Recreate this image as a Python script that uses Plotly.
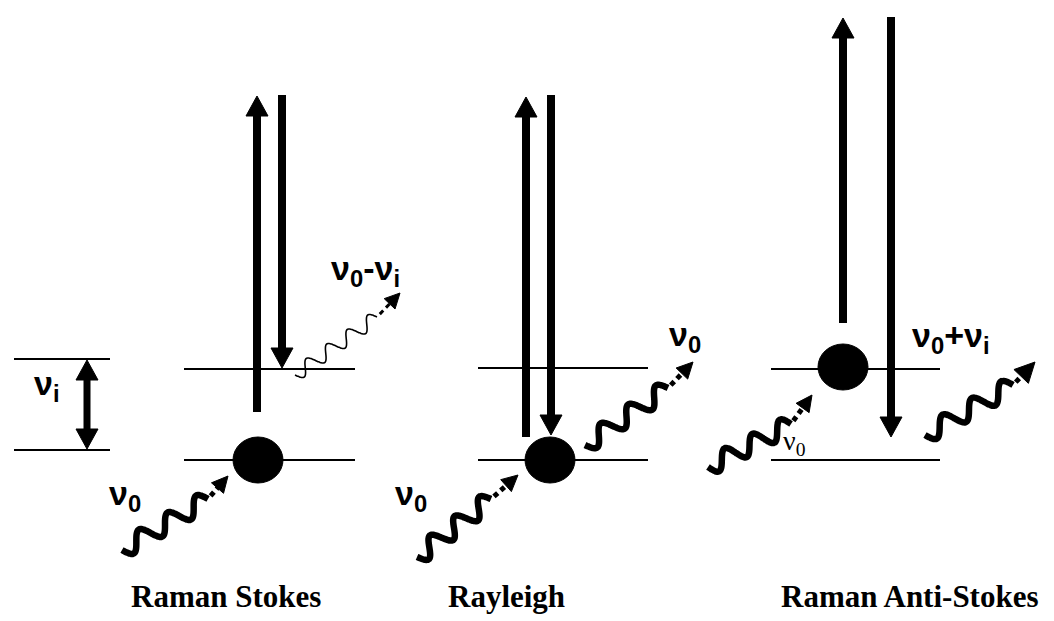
import math
import plotly.graph_objects as go

W, H = 1054, 621
PAGE_OFFSET = 8  # browser body margin

# ---- energy levels (x from, x to, upper y, lower y) ----
level_x0 = [14, 184, 478, 771]
level_x1 = [110, 355, 648, 940]
level_upper_y = [359, 369, 368, 369]
level_lower_y = [450, 460, 460, 460]

# ---- thick vertical transition arrows ----
arrow_x = [257, 282, 526, 551, 843, 891]
arrow_y_from = [412, 95, 437, 95, 323, 17]
arrow_y_to = [96, 368, 97, 435, 18, 437]

# ---- vibrational spacing double arrow ----
double_arrow_x = 87
double_arrow_y = [360, 449]

# ---- molecules (balls) ----
ball_x = [258, 550, 843]
ball_y = [460, 460, 367]

# ---- photons: start, end of wavy part, arrow tip, thick? ----
photon_start = [(122, 550), (295, 375), (417, 557), (585, 445), (708, 467), (925, 435)]
photon_wave_end = [(208, 499), (377, 317), (491, 499), (668, 388), (791, 424), (1013, 385)]
photon_tip = [(228, 476), (400, 293), (518, 475), (693, 362), (812, 395), (1035, 362)]
photon_thick = [True, False, True, True, True, True]
photon_periods = [3, 4, 3, 3, 3, 3]
photon_head = [16, 15, 16, 16, 16, 20]

# ---- text labels ----
greek_labels = ["ν<sub>i</sub>", "ν<sub>0</sub>", "ν<sub>0</sub>-ν<sub>i</sub>", "ν<sub>0</sub>",
                "ν<sub>0</sub>", "ν<sub>0</sub>+ν<sub>i</sub>"]
greek_x = [47, 125, 365, 411, 685, 951]
greek_y = [385, 495, 270, 495, 336, 337]
small_label = "ν<sub>0</sub>"
small_label_pos = (794, 442)
titles = ["Raman Stokes", "Rayleigh", "Raman Anti-Stokes"]
title_x = [226, 506, 910]
title_y = 596

fig = go.Figure()
shapes = []


def tri(tip, u, L, Wd):
    tx, ty = tip
    ux, uy = u
    bx, by = tx - L * ux, ty - L * uy
    px, py = -uy, ux
    return (f"M {tx} {ty} L {bx + Wd/2*px} {by + Wd/2*py} "
            f"L {bx - Wd/2*px} {by - Wd/2*py} Z")


# levels
for i in range(len(level_x0)):
    for y in (level_upper_y[i], level_lower_y[i]):
        shapes.append(dict(type="line", x0=level_x0[i], x1=level_x1[i], y0=y, y1=y,
                           line=dict(color="black", width=2)))

# thick arrows
HL, HW = 20, 22
for x, y0, y1 in zip(arrow_x, arrow_y_from, arrow_y_to):
    d = 1 if y1 > y0 else -1
    shapes.append(dict(type="line", x0=x, x1=x, y0=y0, y1=y1 - d * (HL - 2),
                       line=dict(color="black", width=8)))
    shapes.append(dict(type="path", path=tri((x, y1), (0, d), HL, HW),
                       fillcolor="black", line=dict(color="black", width=1)))

# double arrow
ya, yb = double_arrow_y
shapes.append(dict(type="line", x0=double_arrow_x, x1=double_arrow_x,
                   y0=ya + HL - 2, y1=yb - HL + 2, line=dict(color="black", width=7)))
shapes.append(dict(type="path", path=tri((double_arrow_x, ya), (0, -1), HL, HW),
                   fillcolor="black", line=dict(color="black", width=1)))
shapes.append(dict(type="path", path=tri((double_arrow_x, yb), (0, 1), HL, HW),
                   fillcolor="black", line=dict(color="black", width=1)))

# balls
for bx, by in zip(ball_x, ball_y):
    shapes.append(dict(type="circle", x0=bx - 25, x1=bx + 25, y0=by - 23, y1=by + 23,
                       fillcolor="black", line=dict(color="black", width=1)))

# photons
for s, we, tip, thick, n, hl in zip(photon_start, photon_wave_end, photon_tip,
                                    photon_thick, photon_periods, photon_head):
    sx, sy = s
    ex, ey = we
    dx, dy = ex - sx, ey - sy
    ln = math.hypot(dx, dy)
    ux, uy = dx / ln, dy / ln
    px, py = -uy, ux
    amp = 9 if thick else 7
    xs, ys = [], []
    N = 120
    for k in range(N + 1):
        t = k / N
        off = amp * math.sin(2 * math.pi * n * t)
        xs.append(sx + t * dx + off * px)
        ys.append(sy + t * dy + off * py)
    lw = 6.5 if thick else 1.6
    fig.add_trace(go.Scatter(x=xs, y=ys, mode="lines",
                             line=dict(color="black", width=lw, shape="spline"),
                             hoverinfo="skip", showlegend=False))
    tx, ty = tip
    ddx, ddy = tx - ex, ty - ey
    dl = math.hypot(ddx, ddy)
    vx, vy = ddx / dl, ddy / dl
    hw = hl
    fig.add_trace(go.Scatter(x=[ex + 4 * vx, tx - (hl - 2) * vx],
                             y=[ey + 4 * vy, ty - (hl - 2) * vy], mode="lines",
                             line=dict(color="black", width=5 if thick else 3, dash="5px,4px"),
                             hoverinfo="skip", showlegend=False))
    shapes.append(dict(type="path", path=tri(tip, (vx, vy), hl, hw),
                       fillcolor="black", line=dict(color="black", width=1)))

annotations = []
for txt, x, y in zip(greek_labels, greek_x, greek_y):
    annotations.append(dict(x=x, y=y, xref="x", yref="y", text=f"<b>{txt}</b>",
                            showarrow=False, xanchor="center", yanchor="middle",
                            font=dict(family="Liberation Sans, Arial", size=34, color="black")))
annotations.append(dict(x=small_label_pos[0], y=small_label_pos[1], xref="x", yref="y",
                        text=small_label, showarrow=False, xanchor="center", yanchor="middle",
                        font=dict(family="Liberation Serif, Times New Roman", size=28,
                                  color="black")))
for txt, x in zip(titles, title_x):
    annotations.append(dict(x=x, y=title_y, xref="x", yref="y", text=f"<b>{txt}</b>",
                            showarrow=False, xanchor="center", yanchor="middle",
                            font=dict(family="Liberation Serif, Times New Roman", size=31,
                                      color="black")))

fig.update_layout(
    width=W - PAGE_OFFSET, height=H - PAGE_OFFSET, margin=dict(l=0, r=0, t=0, b=0),
    paper_bgcolor="white", plot_bgcolor="white",
    xaxis=dict(range=[PAGE_OFFSET, W], visible=False, fixedrange=True),
    yaxis=dict(range=[H, PAGE_OFFSET], visible=False, fixedrange=True),
    shapes=shapes, annotations=annotations, showlegend=False,
)

fig.write_html("out.html", config={"displayModeBar": False})
